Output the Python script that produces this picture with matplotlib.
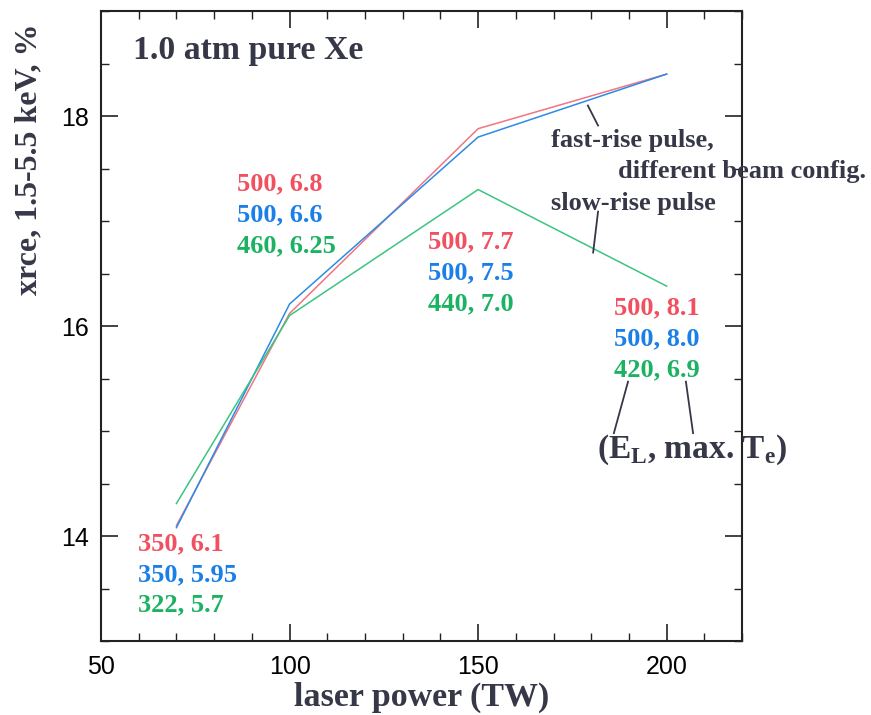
import matplotlib
matplotlib.use("Agg")
import matplotlib.pyplot as plt
from matplotlib.ticker import MultipleLocator

# ---- data ----
power_tw = [70, 100, 150, 200]
xrce_fast = [14.10, 16.12, 17.88, 18.40]
xrce_fast_alt = [14.08, 16.21, 17.80, 18.40]
xrce_slow = [14.31, 16.10, 17.30, 16.38]

labels_fast = ["350, 6.1", "500, 6.8", "500, 7.7", "500, 8.1"]
labels_fast_alt = ["350, 5.95", "500, 6.6", "500, 7.5", "500, 8.0"]
labels_slow = ["322, 5.7", "460, 6.25", "440, 7.0", "420, 6.9"]

# ---- style ----
RED_L, BLUE_L, GREEN_L = "#f07581", "#2b8be6", "#3cc480"
RED_T, BLUE_T, GREEN_T = "#f0505f", "#1a7fe6", "#1bb262"
DARK = "#363848"
SERIF = "Liberation Serif"
SANS = "Liberation Sans"

plt.rcParams["mathtext.fontset"] = "custom"
plt.rcParams["mathtext.bf"] = "Liberation Serif:bold"
plt.rcParams["mathtext.rm"] = "Liberation Serif:bold"

fig = plt.figure(figsize=(8.71, 7.15), dpi=100)
ax = fig.add_axes([0.116, 0.1035, 0.736, 0.881])

ax.plot(power_tw, xrce_fast, color=RED_L, lw=1.1)
ax.plot(power_tw, xrce_fast_alt, color=BLUE_L, lw=1.1)
ax.plot(power_tw, xrce_slow, color=GREEN_L, lw=1.1)

ax.set_xlim(50, 220)
ax.set_ylim(13, 19)
ax.xaxis.set_major_locator(MultipleLocator(50))
ax.xaxis.set_minor_locator(MultipleLocator(10))
ax.yaxis.set_major_locator(MultipleLocator(2))
ax.yaxis.set_minor_locator(MultipleLocator(0.5))
ax.tick_params(which="both", direction="in", top=True, right=True, color="#222222")
ax.tick_params(which="major", length=12, width=1.2)
ax.tick_params(which="minor", length=6, width=1.0)
ax.tick_params(axis="x", which="major", pad=10)
ax.tick_params(axis="y", which="major", pad=9)
for lab in ax.get_xticklabels() + ax.get_yticklabels():
    lab.set_fontfamily(SANS)
    lab.set_fontsize(18)
for s in ax.spines.values():
    s.set_linewidth(1.5)
    s.set_color("#222222")

ax.set_xlabel("laser power (TW)", fontfamily=SERIF, fontweight="bold",
              fontsize=24.5, color=DARK, labelpad=2)
ax.set_ylabel("xrce, 1.5-5.5 keV, %", fontfamily=SERIF, fontweight="bold",
              fontsize=23, color=DARK)
ax.yaxis.set_label_coords(-0.09, 0.765)

ax.text(0.05, 0.937, "1.0 atm pure Xe", transform=ax.transAxes, fontfamily=SERIF,
        fontweight="bold", fontsize=24.3, color=DARK, va="center", ha="left")

# label group anchors (left x, top-line y) in data coords
anchors = [(59.8, 13.93), (86.1, 17.35), (136.7, 16.80), (186.0, 16.17)]
dy = 0.295
for (x0, y0), a, b, c in zip(anchors, labels_fast, labels_fast_alt, labels_slow):
    for k, (txt, col) in enumerate([(a, RED_T), (b, BLUE_T), (c, GREEN_T)]):
        ax.text(x0, y0 - k * dy, txt, color=col, fontfamily=SERIF, fontweight="bold",
                fontsize=19, va="center", ha="left")

note_kw = dict(fontfamily=SERIF, fontweight="bold", fontsize=19, color=DARK,
               va="center", ha="left", clip_on=False)
ax.text(169.3, 17.77, "fast-rise pulse,", **note_kw)
ax.text(187.1, 17.47, "different beam config.", **note_kw)
ax.text(169.3, 17.17, "slow-rise pulse", **note_kw)

lead_kw = dict(color=DARK, lw=1.3, clip_on=False)
ax.plot([179.1, 181.8], [18.10, 17.91], **lead_kw)
ax.plot([181.8, 180.5], [17.09, 16.70], **lead_kw)
ax.plot([189.75, 186.0], [15.47, 14.98], **lead_kw)
ax.plot([205.1, 207.0], [15.47, 14.98], **lead_kw)

ax.text(181.5, 14.82, r"(E$_\mathbf{L}$, max. T$_\mathbf{e}$)", color=DARK,
        fontfamily=SERIF, fontweight="bold", fontsize=24,
        va="center", ha="left", clip_on=False)

fig.savefig("out.png", dpi=100)
